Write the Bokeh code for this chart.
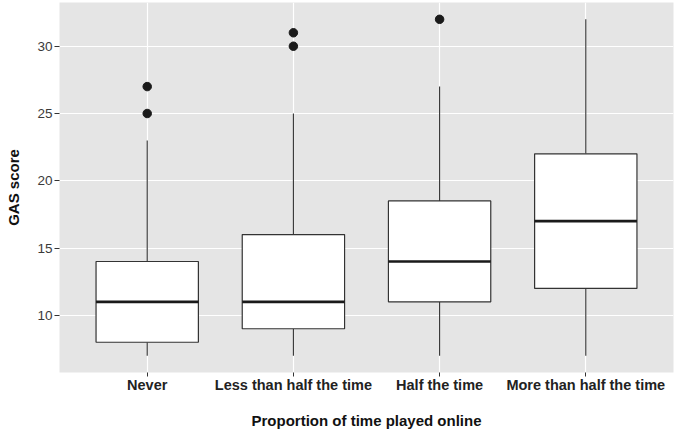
from bokeh.plotting import figure
from bokeh.models import FactorRange, Range1d, ColumnDataSource, FixedTicker
from bokeh.embed import file_html
from bokeh.resources import INLINE

categories = ["Never", "Less than half the time", "Half the time", "More than half the time"]
whisker_low = [7, 7, 7, 7]
q1 = [8, 9, 11, 12]
median = [11, 11, 14, 17]
q3 = [14, 16, 18.5, 22]
whisker_high = [23, 25, 27, 32]
outlier_cat = ["Never", "Never", "Less than half the time", "Less than half the time", "Half the time"]
outlier_val = [27, 25, 31, 30, 32]
y_ticks = [10, 15, 20, 25, 30]

FONT = "Liberation Sans"

p = figure(
    width=674, height=432,
    x_range=FactorRange(factors=categories, range_padding=0.1, range_padding_units="absolute"),
    y_range=Range1d(5.75, 33.25),
    output_backend="svg", toolbar_location=None,
    min_border_left=59, min_border_right=1, min_border_top=2, min_border_bottom=60,
)
p.background_fill_color = "#E5E5E5"
p.border_fill_color = "white"
p.outline_line_color = None

src = ColumnDataSource(dict(cat=categories, lo=whisker_low, q1=q1, med=median, q3=q3, hi=whisker_high))

# whiskers
p.segment(x0="cat", y0="q3", x1="cat", y1="hi", source=src, line_color="#333333", line_width=1.1)
p.segment(x0="cat", y0="lo", x1="cat", y1="q1", source=src, line_color="#333333", line_width=1.1)
# boxes
p.vbar(x="cat", width=0.7, bottom="q1", top="q3", source=src,
       fill_color="white", line_color="#333333", line_width=1.2)
# medians
p.vbar(x="cat", width=0.7, bottom="med", top="med", source=src,
       fill_color=None, line_color="#1a1a1a", line_width=2.6)
# outliers
osrc = ColumnDataSource(dict(cat=outlier_cat, val=outlier_val))
p.scatter(x="cat", y="val", source=osrc, size=8.5, fill_color="#1a1a1a", line_color="#1a1a1a")

# grid
p.xgrid.grid_line_color = "white"
p.ygrid.grid_line_color = "white"
p.xgrid.grid_line_width = 1.2
p.ygrid.grid_line_width = 1.2
p.yaxis.ticker = FixedTicker(ticks=y_ticks)

for ax in (p.xaxis[0], p.yaxis[0]):
    ax.axis_line_color = None
    ax.major_tick_in = 0
    ax.minor_tick_line_color = None
    ax.major_tick_line_color = "#333333"
    ax.major_label_text_font = FONT
    ax.axis_label_text_font = FONT
    ax.axis_label_text_font_style = "bold"
    ax.axis_label_text_color = "#111111"
    ax.axis_label_text_font_size = "15px"

p.xaxis.major_tick_out = 4
p.xaxis.major_label_standoff = 0
p.xaxis.major_label_text_font_style = "bold"
p.xaxis.major_label_text_font_size = "14.5px"
p.xaxis.major_label_text_color = "#222222"
p.xaxis.axis_label = "Proportion of time played online"
p.xaxis.axis_label_standoff = 16

p.yaxis.major_tick_out = 5
p.yaxis.major_label_standoff = 2
p.yaxis.major_label_text_font_size = "13.5px"
p.yaxis.major_label_text_color = "#3a3a3a"
p.yaxis.axis_label = "GAS score"
p.yaxis.axis_label_standoff = 12

open("out.html", "w").write(file_html(p, INLINE))
